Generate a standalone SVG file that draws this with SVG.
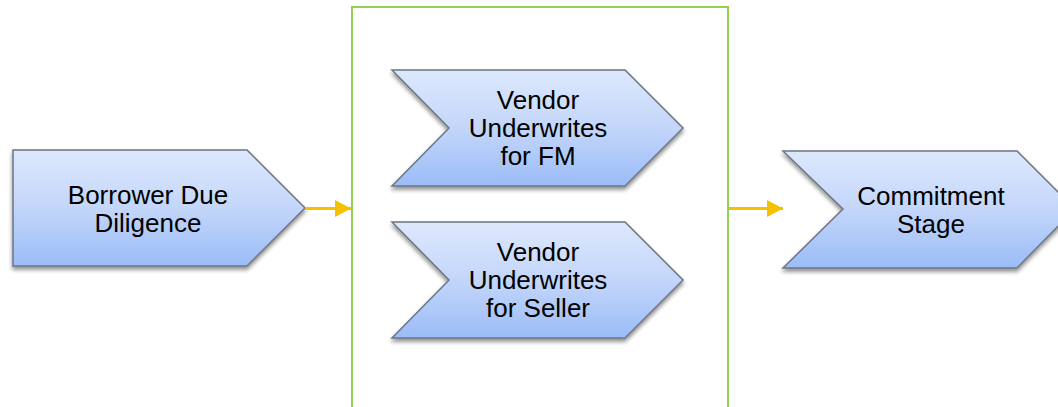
<svg xmlns="http://www.w3.org/2000/svg" width="1058" height="407" viewBox="0 0 1058 407">
  <style>
    .shape { fill: url(#blueFill); stroke: #6d7682; stroke-width: 1.5; stroke-linejoin: miter; filter: url(#drop); }
    .label { font-family: "Liberation Sans", Arial, sans-serif; font-size: 26px; fill: #000; text-anchor: middle; }
    .link { stroke: #f5c000; stroke-width: 3; fill: none; }
    .frame { fill: none; stroke: #92d050; stroke-width: 2; }
  </style>
  <defs>
    <linearGradient id="blueFill" x1="0" y1="0" x2="0" y2="1">
      <stop offset="0" stop-color="#dde8fc"/>
      <stop offset="0.5" stop-color="#c3d6fa"/>
      <stop offset="1" stop-color="#9bbcf7"/>
    </linearGradient>
    <filter id="drop" x="-10%" y="-10%" width="120%" height="130%">
      <feGaussianBlur in="SourceAlpha" stdDeviation="2"/>
      <feOffset dx="0" dy="3" result="blur"/>
      <feComponentTransfer><feFuncA type="linear" slope="0.45"/></feComponentTransfer>
      <feMerge><feMergeNode/><feMergeNode in="SourceGraphic"/></feMerge>
    </filter>
    <marker id="head" markerWidth="16" markerHeight="17" refX="16" refY="8.5" orient="auto" markerUnits="userSpaceOnUse">
      <path d="M0,0 L16,8.5 L0,17 Z" fill="#f5c000"/>
    </marker>
  </defs>

  <rect id="underwriting-phase" class="frame" x="352" y="7" width="376" height="420"/>

  <g id="borrower-due-diligence">
    <path class="shape" d="M13,150 L247,150 L305,208 L247,266 L13,266 Z"/>
    <text class="label" x="148" y="204">Borrower Due</text>
    <text class="label" x="148" y="232">Diligence</text>
  </g>

  <g id="vendor-underwrites-fm">
    <path class="shape" d="M392,70 L625,70 L683,128 L625,186 L392,186 L449,128 Z"/>
    <text class="label" x="538" y="109">Vendor</text>
    <text class="label" x="538" y="137">Underwrites</text>
    <text class="label" x="538" y="165">for FM</text>
  </g>

  <g id="vendor-underwrites-seller">
    <path class="shape" d="M392,222 L625,222 L683,280 L625,338 L392,338 L449,280 Z"/>
    <text class="label" x="538" y="261">Vendor</text>
    <text class="label" x="538" y="289">Underwrites</text>
    <text class="label" x="538" y="317">for Seller</text>
  </g>

  <g id="commitment-stage">
    <path class="shape" d="M783,151 L1017,151 L1075,209 L1017,268 L783,268 L843,209 Z"/>
    <text class="label" x="931" y="205">Commitment</text>
    <text class="label" x="931" y="233">Stage</text>
  </g>

  <g id="connectors">
    <line class="link" x1="305" y1="208.5" x2="351" y2="208.5" marker-end="url(#head)"/>
    <line class="link" x1="729" y1="208.5" x2="783" y2="208.5" marker-end="url(#head)"/>
  </g>
</svg>
